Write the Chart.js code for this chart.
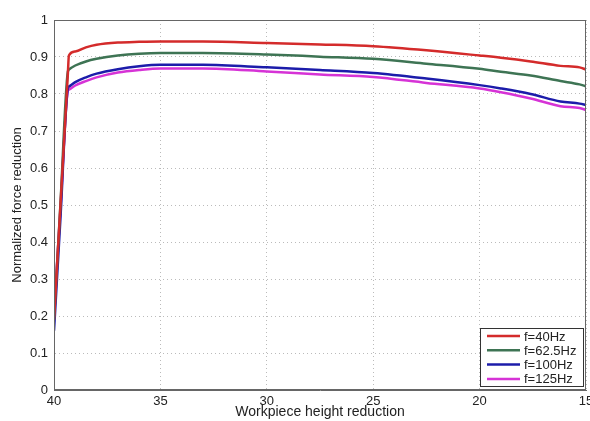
<!DOCTYPE html>
<html>
<head>
<meta charset="utf-8">
<script src="https://cdn.jsdelivr.net/npm/chart.js@4/dist/chart.umd.min.js"></script>
<style>
  html, body { margin: 0; padding: 0; background: #fff; }
  #chart { display: block; }
</style>
</head>
<body>
<canvas id="chart" width="590" height="421"></canvas>
<script>
// ====================== DATA ======================
const heightReduction = [40, 39.7, 39.35, 39.3, 39, 38.5, 38, 37, 36, 35, 33, 30, 27.5, 25, 22.5, 20, 19, 17.6, 16.2, 15.3, 15];

const force40Hz  = [0.19, 0.496, 0.853, 0.904, 0.915, 0.926, 0.933, 0.939, 0.941, 0.942, 0.942, 0.938, 0.934, 0.929, 0.918, 0.904, 0.898, 0.888, 0.876, 0.872, 0.866];
const force62Hz  = [0.19, 0.499, 0.860, 0.866, 0.877, 0.888, 0.895, 0.904, 0.909, 0.911, 0.911, 0.907, 0.901, 0.895, 0.882, 0.868, 0.860, 0.850, 0.835, 0.826, 0.821];
const force100Hz = [0.16, 0.462, 0.815, 0.820, 0.832, 0.845, 0.855, 0.867, 0.875, 0.879, 0.879, 0.872, 0.865, 0.857, 0.842, 0.824, 0.815, 0.800, 0.780, 0.774, 0.770];
const force125Hz = [0.21, 0.486, 0.808, 0.812, 0.823, 0.835, 0.845, 0.858, 0.865, 0.869, 0.869, 0.861, 0.853, 0.846, 0.830, 0.815, 0.805, 0.788, 0.767, 0.762, 0.757];

const seriesLabels = ["f=40Hz", "f=62.5Hz", "f=100Hz", "f=125Hz"];
const seriesColors = ["#d42b2b", "#3e7454", "#1c1caa", "#d633d6"];
const seriesValues = [force40Hz, force62Hz, force100Hz, force125Hz];

const yTickLabels = ["0", "0.1", "0.2", "0.3", "0.4", "0.5", "0.6", "0.7", "0.8", "0.9", "1"];

// ====================== PLUGINS ======================
// box around the plot area, like MATLAB axes
const boxPlugin = {
  id: "box",
  afterDatasetsDraw(chart) {
    const a = chart.chartArea, ctx = chart.ctx;
    ctx.save();
    ctx.strokeStyle = "#666";
    ctx.lineWidth = 1;
    ctx.strokeRect(a.left + 0.5, a.top + 0.5, a.right - a.left - 1, a.bottom - a.top - 1);
    ctx.restore();
  }
};

// legend inside the plot, bottom right
const boxLegend = {
  id: "boxLegend",
  afterDraw(chart) {
    const ctx = chart.ctx;
    const a = chart.chartArea;
    const w = 103, h = 58;
    const x0 = a.right - w - 3, y0 = a.bottom - h - 4;
    ctx.save();
    ctx.fillStyle = "#fff";
    ctx.fillRect(x0, y0, w, h);
    ctx.strokeStyle = "#333";
    ctx.lineWidth = 1;
    ctx.strokeRect(x0 + 0.5, y0 + 0.5, w, h);
    ctx.font = "13px 'Liberation Sans', Arial, sans-serif";
    ctx.textBaseline = "middle";
    chart.data.datasets.forEach((ds, i) => {
      const y = y0 + 8 + i * 14.3;
      ctx.strokeStyle = ds.borderColor;
      ctx.lineWidth = 2.5;
      ctx.beginPath();
      ctx.moveTo(x0 + 7, y);
      ctx.lineTo(x0 + 40, y);
      ctx.stroke();
      ctx.fillStyle = "#222";
      ctx.fillText(ds.label, x0 + 44, y + 1);
    });
    ctx.restore();
  }
};

// ====================== CHART ======================
const datasets = seriesLabels.map((label, i) => ({
  label: label,
  data: heightReduction.map((x, j) => ({ x: x, y: seriesValues[i][j] })),
  borderColor: seriesColors[i],
  backgroundColor: seriesColors[i],
  borderWidth: 2.5,
  pointRadius: 0,
  cubicInterpolationMode: "monotone",
  fill: false
}));

const font = { family: "'Liberation Sans', Arial, sans-serif", size: 13 };

new Chart(document.getElementById("chart"), {
  type: "line",
  data: { datasets: datasets },
  options: {
    responsive: false,
    animation: false,
    layout: { padding: { top: 20, right: 4, left: 0, bottom: 0 } },
    plugins: { legend: { display: false }, tooltip: { enabled: false } },
    scales: {
      x: {
        type: "linear",
        reverse: true,
        min: 15, max: 40,
        // let the "15" label run off the right edge, like the original
        afterFit: s => { s.height = 31; s.paddingRight = 0; s.paddingLeft = 0; },
        ticks: { stepSize: 5, color: "#222", font: font, padding: 4, maxRotation: 0 },
        grid: { color: "#bbb", drawTicks: false },
        border: { display: true, color: "#666", dash: [1, 3] },
        title: { display: true, text: "Workpiece height reduction", color: "#222",
                 font: { family: font.family, size: 14 }, padding: { top: -2, bottom: 0 } }
      },
      y: {
        min: 0, max: 1,
        afterFit: s => { s.width = 54; },
        ticks: { stepSize: 0.1, color: "#222", font: font, padding: 6,
                 callback: (v, i) => yTickLabels[i] },
        grid: { color: "#bbb", drawTicks: false },
        border: { display: true, color: "#666", dash: [1, 3] },
        title: { display: true, text: "Normalized force reduction", color: "#222",
                 font: { family: font.family, size: 13 }, padding: { top: 10, bottom: 0 } }
      }
    }
  },
  plugins: [boxPlugin, boxLegend]
});
</script>
</body>
</html>
